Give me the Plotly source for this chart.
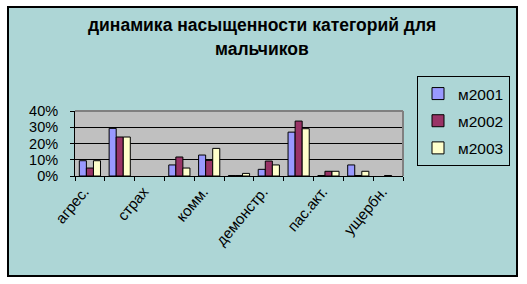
import plotly.graph_objects as go

# ---- data ----
categories = ["агрес.", "", "страх", "", "комм.", "", "демонстр.", "", "пас.акт.", "", "ущербн."]
shown_labels = ["агрес.", "страх", "комм.", "демонстр.", "пас.акт.", "ущербн."]
series_names = ["м2001", "м2002", "м2003"]
m2001 = [0.094, 0.293, None, 0.068, 0.129, 0.003, 0.041, 0.270, 0.003, 0.068, None]
m2002 = [0.049, 0.240, None, 0.117, 0.096, 0.003, 0.092, 0.338, 0.029, 0.003, 0.003]
m2003 = [0.094, 0.240, None, 0.049, 0.170, 0.016, 0.068, 0.291, 0.029, 0.029, None]
y_ticks = [0, 0.1, 0.2, 0.3, 0.4]

colors = ["#9999FF", "#993366", "#FFFFCC"]
BG = "#ADD6D6"
FONT = "Liberation Sans, Arial, sans-serif"

W, H = 527, 284
L, R, T, B = 75, 403, 111, 176  # plot area in pixels


def px_x(p):
    return (p - L) / (R - L)


def px_y(p):
    return (B - p) / (B - T)


xs = list(range(len(categories)))
fig = go.Figure()
for i, (name, vals) in enumerate(zip(series_names, [m2001, m2002, m2003])):
    fig.add_trace(go.Bar(
        x=xs, y=vals, name=name, legendgroup=name,
        marker=dict(color=colors[i], line=dict(color="black", width=1)),
    ))

shapes = [
    # white outer margins
    dict(type="rect", xref="paper", yref="paper", x0=px_x(0), x1=px_x(W), y0=px_y(0), y1=px_y(7),
         fillcolor="white", line=dict(width=0), layer="above"),
    dict(type="rect", xref="paper", yref="paper", x0=px_x(0), x1=px_x(W), y0=px_y(276), y1=px_y(H),
         fillcolor="white", line=dict(width=0), layer="above"),
    dict(type="rect", xref="paper", yref="paper", x0=px_x(0), x1=px_x(8), y0=px_y(0), y1=px_y(H),
         fillcolor="white", line=dict(width=0), layer="above"),
    dict(type="rect", xref="paper", yref="paper", x0=px_x(517), x1=px_x(W), y0=px_y(0), y1=px_y(H),
         fillcolor="white", line=dict(width=0), layer="above"),
    # chart border
    dict(type="rect", xref="paper", yref="paper", x0=px_x(8), x1=px_x(517), y0=px_y(7), y1=px_y(276),
         line=dict(color="black", width=2), layer="above"),
    # gray plot border top/right
    dict(type="line", xref="paper", yref="paper", x0=0, x1=1, y0=1, y1=1,
         line=dict(color="#808080", width=2), layer="above"),
    dict(type="line", xref="paper", yref="paper", x0=1, x1=1, y0=0, y1=1,
         line=dict(color="#808080", width=2), layer="above"),
]

annotations = [
    dict(text="<b>динамика насыщенности категорий для</b>", xref="paper", yref="paper",
         x=px_x(262), y=px_y(25), xanchor="center", yanchor="middle", showarrow=False,
         font=dict(family=FONT, size=17.5, color="black")),
    dict(text="<b>мальчиков</b>", xref="paper", yref="paper",
         x=px_x(262), y=px_y(49), xanchor="center", yanchor="middle", showarrow=False,
         font=dict(family=FONT, size=17.5, color="black")),
]

fig.update_layout(
    width=W, height=H,
    margin=dict(l=L, r=W - R, t=T, b=H - B, pad=0),
    paper_bgcolor=BG, plot_bgcolor="#C0C0C0",
    barmode="group", bargap=0.29, bargroupgap=0,
    font=dict(family=FONT, size=13, color="black"),
    shapes=shapes, annotations=annotations,
    legend=dict(x=px_x(417), y=px_y(76), xanchor="left", yanchor="top",
                bgcolor=BG, bordercolor="black", borderwidth=1,
                font=dict(family=FONT, size=15.5, color="black"),
                itemwidth=30,
                traceorder="grouped", tracegroupgap=4),
    xaxis=dict(range=[-0.5, len(categories) - 0.5], tickmode="array",
               tickvals=[i - 0.2 for i, c in enumerate(categories) if c], ticktext=shown_labels,
               tickangle=-50, ticks="", showgrid=False, zeroline=False,
               showline=True, linecolor="black", linewidth=1,
               tickfont=dict(family=FONT, size=15, color="black"),
               minor=dict(tick0=-0.5, dtick=1, ticks="outside", ticklen=4,
                          tickcolor="black", showgrid=False)),
    yaxis=dict(range=[0, 0.4], tickvals=y_ticks, tickformat=".0%",
               ticks="outside", ticklen=4, tickcolor="black",
               showgrid=True, gridcolor="black", gridwidth=1, zeroline=False,
               showline=True, linecolor="black", linewidth=1,
               ticklabelstandoff=9,
               tickfont=dict(family=FONT, size=14.5, color="black")),
    showlegend=True,
)

fig.write_html("out.html")
